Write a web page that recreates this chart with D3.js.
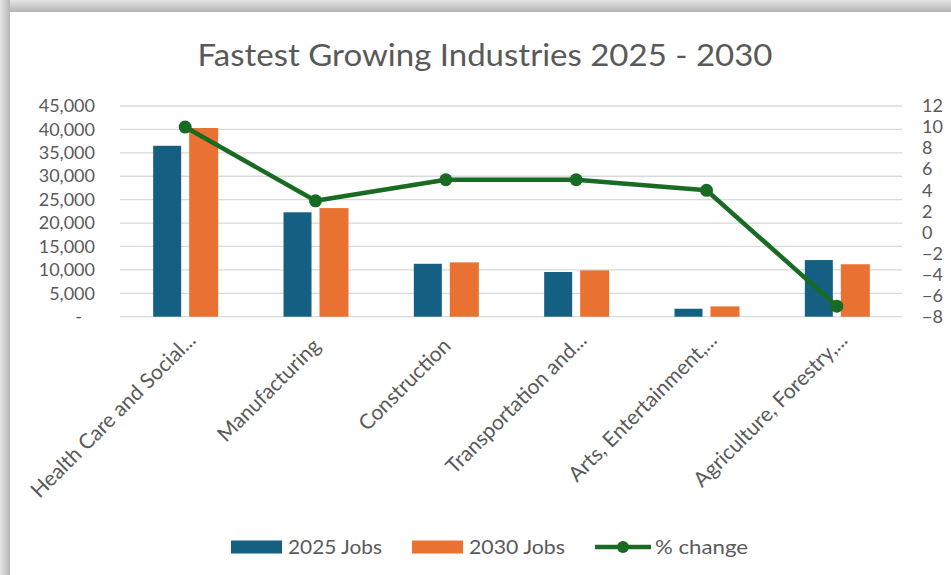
<!DOCTYPE html>
<html>
<head>
<meta charset="utf-8">
<script src="https://cdn.jsdelivr.net/npm/d3@7"></script>
<style>
  html, body { margin: 0; padding: 0; background: #ffffff; }
  svg { display: block; }
  text { font-family: Lato, "Liberation Sans", sans-serif; fill: #595959; }
</style>
</head>
<body>
<svg id="chart" width="951" height="575"></svg>
<script>
const categories = ["Health Care and Social...", "Manufacturing", "Construction", "Transportation and...", "Arts, Entertainment,...", "Agriculture, Forestry,..."];
const jobs2025 = [36500, 22300, 11300, 9550, 1700, 12100];
const jobs2030 = [40300, 23200, 11600, 9900, 2200, 11200];
const pctChange = [10, 3, 5, 5, 4, -7];
const leftTicks = [0, 5000, 10000, 15000, 20000, 25000, 30000, 35000, 40000, 45000];
const rightTicks = [-8, -6, -4, -2, 0, 2, 4, 6, 8, 10, 12];
const seriesNames = ["2025 Jobs", "2030 Jobs", "% change"];
const colors = { jobs2025: "#156082", jobs2030: "#E97132", pct: "#196B24" };

const W = 951, H = 575;
const svg = d3.select("#chart");

// frame shadow
const defs = svg.append("defs");
const gTop = defs.append("linearGradient").attr("id", "gTop").attr("x1", 0).attr("y1", 0).attr("x2", 0).attr("y2", 1);
gTop.append("stop").attr("offset", "0%").attr("stop-color", "#e4e4e4");
gTop.append("stop").attr("offset", "100%").attr("stop-color", "#b5b5b5");
const gLeft = defs.append("linearGradient").attr("id", "gLeft").attr("x1", 0).attr("y1", 0).attr("x2", 1).attr("y2", 0);
gLeft.append("stop").attr("offset", "0%").attr("stop-color", "#e4e4e4");
gLeft.append("stop").attr("offset", "100%").attr("stop-color", "#b5b5b5");
svg.append("rect").attr("x", 0).attr("y", 0).attr("width", W).attr("height", 12).attr("fill", "url(#gTop)");
svg.append("rect").attr("x", 0).attr("y", 0).attr("width", 10).attr("height", H).attr("fill", "url(#gLeft)");
svg.append("rect").attr("x", 10).attr("y", 12).attr("width", W - 10).attr("height", H - 12).attr("fill", "#ffffff");

const plot = { left: 120, right: 902, top: 106, bottom: 316.7 };

const x = d3.scaleBand().domain(categories).range([plot.left, plot.right]).padding(0);
const yL = d3.scaleLinear().domain([0, 45000]).range([plot.bottom, plot.top]);
const yR = d3.scaleLinear().domain([-8, 12]).range([plot.bottom, plot.top]);

// title
svg.append("text").attr("x", 485).attr("y", 66).attr("text-anchor", "middle")
  .style("font-size", "30px").attr("textLength", 575).attr("lengthAdjust", "spacingAndGlyphs")
  .text("Fastest Growing Industries 2025 - 2030");

// gridlines
svg.append("g").selectAll("line").data(leftTicks).join("line")
  .attr("x1", plot.left).attr("x2", plot.right)
  .attr("y1", d => yL(d)).attr("y2", d => yL(d))
  .attr("stroke", "#d9d9d9").attr("stroke-width", 1.3);

// left axis
const axL = d3.axisLeft(yL).tickValues(leftTicks).tickSize(0).tickPadding(0)
  .tickFormat(d => d === 0 ? "-" : d3.format(",")(d));
const gL = svg.append("g").attr("transform", "translate(95,0)").call(axL);
gL.select(".domain").remove();
gL.selectAll("text").style("font-size", "18px").style("fill", "#595959").style("font-family", "Lato, 'Liberation Sans', sans-serif")
  .attr("dx", d => d === 0 ? "-13" : "0");

// right axis
const axR = d3.axisRight(yR).tickValues(rightTicks).tickSize(0).tickPadding(0);
const gR = svg.append("g").attr("transform", "translate(922,0)").call(axR);
gR.select(".domain").remove();
gR.selectAll("text").style("font-size", "18px").style("fill", "#595959").style("font-family", "Lato, 'Liberation Sans', sans-serif");

// bars
const barW = 28, gap = 8;
svg.append("g").selectAll("rect").data(categories).join("rect")
  .attr("x", (d) => x(d) + x.bandwidth() / 2 - gap / 2 - barW)
  .attr("width", barW)
  .attr("y", (d, i) => yL(jobs2025[i]))
  .attr("height", (d, i) => yL(0) - yL(jobs2025[i]))
  .attr("fill", colors.jobs2025);
svg.append("g").selectAll("rect").data(categories).join("rect")
  .attr("x", (d) => x(d) + x.bandwidth() / 2 + gap / 2)
  .attr("width", barW + 1)
  .attr("y", (d, i) => yL(jobs2030[i]))
  .attr("height", (d, i) => yL(0) - yL(jobs2030[i]))
  .attr("fill", colors.jobs2030);

// x labels
svg.append("g").selectAll("text").data(categories).join("text")
  .attr("transform", d => `translate(${x(d) + x.bandwidth() / 2 + 1},342) rotate(-45)`)
  .attr("text-anchor", "end").attr("dy", "0.35em")
  .attr("dx", d => d.endsWith("...") ? 8 : 0)
  .style("font-size", "21px")
  .text(d => d);

// line
const line = d3.line().x((d, i) => x(categories[i]) + x.bandwidth() / 2).y(d => yR(d));
svg.append("path").datum(pctChange).attr("d", line)
  .attr("fill", "none").attr("stroke", colors.pct).attr("stroke-width", 4.5).attr("stroke-linejoin", "round");
svg.append("g").selectAll("circle").data(pctChange).join("circle")
  .attr("cx", (d, i) => x(categories[i]) + x.bandwidth() / 2)
  .attr("cy", d => yR(d)).attr("r", 6.5).attr("fill", colors.pct);

// legend
const ly = 547;
const leg = svg.append("g");
leg.append("rect").attr("x", 231).attr("y", ly - 6.5).attr("width", 51).attr("height", 13).attr("fill", colors.jobs2025);
leg.append("text").attr("x", 288).attr("y", ly).attr("dy", "0.35em").style("font-size", "20px")
  .attr("textLength", 94).attr("lengthAdjust", "spacingAndGlyphs").text(seriesNames[0]);
leg.append("rect").attr("x", 412).attr("y", ly - 6.5).attr("width", 51).attr("height", 13).attr("fill", colors.jobs2030);
leg.append("text").attr("x", 469).attr("y", ly).attr("dy", "0.35em").style("font-size", "20px")
  .attr("textLength", 96).attr("lengthAdjust", "spacingAndGlyphs").text(seriesNames[1]);
leg.append("line").attr("x1", 595).attr("x2", 651).attr("y1", ly).attr("y2", ly).attr("stroke", colors.pct).attr("stroke-width", 4.5);
leg.append("circle").attr("cx", 623).attr("cy", ly).attr("r", 6).attr("fill", colors.pct);
leg.append("text").attr("x", 655).attr("y", ly).attr("dy", "0.35em").style("font-size", "20px")
  .attr("textLength", 93).attr("lengthAdjust", "spacingAndGlyphs").text(seriesNames[2]);
</script>
</body>
</html>
